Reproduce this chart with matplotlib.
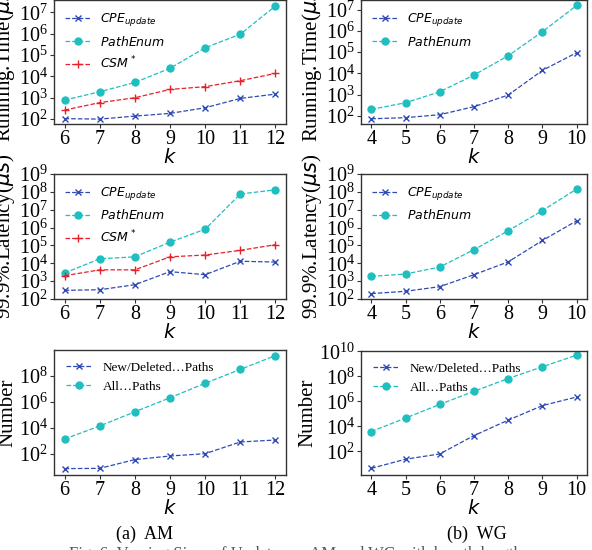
import numpy as np
import matplotlib
matplotlib.use('Agg')
import matplotlib.pyplot as plt
from matplotlib.ticker import NullLocator

plt.rcParams['font.family'] = 'serif'
plt.rcParams['font.serif'] = ['Liberation Serif', 'DejaVu Serif']
plt.rcParams['mathtext.fontset'] = 'dejavusans'

# data
k_am = [6, 7, 8, 9, 10, 11, 12]
k_wg = [4, 5, 6, 7, 8, 9, 10]

# running time (us)
am_time_cpe = [105, 100, 138, 185, 340, 930, 1480]
am_time_pe = [780, 1900, 5200, 24000, 220000, 950000, 2.0e7]
am_time_csm = [265, 590, 1000, 2450, 3300, 6300, 13800]
wg_time_cpe = [72, 81, 112, 267, 950, 13800, 95000]
wg_time_pe = [200, 410, 1350, 8300, 68000, 930000, 1.6e7]

# 99.9% latency (us)
am_lat_cpe = [305, 330, 630, 3400, 2300, 13000, 11700]
am_lat_pe = [2840, 17800, 23000, 152000, 810000, 7.6e7, 1.3e8]
am_lat_csm = [2000, 4300, 4300, 23000, 29000, 53000, 110000]
wg_lat_cpe = [200, 270, 490, 2300, 12000, 190000, 2.4e6]
wg_lat_pe = [1850, 2500, 6200, 58000, 660000, 9e6, 1.45e8]

# number of paths
am_num_new = [7.6, 7.9, 37, 70, 105, 830, 1170]
am_num_all = [1400, 13800, 170000, 2e6, 2.6e7, 3e8, 3.4e9]
wg_num_new = [4.3, 23, 61, 1800, 31000, 450000, 2.2e6]
wg_num_all = [3800, 45000, 560000, 6.3e6, 6.6e7, 5.8e8, 4.9e9]

BLUE = '#2f4ab5'
CYAN = '#1fbfc0'
RED = '#e8202a'
SPINE = '#333333'

W, H = 592, 550
fig = plt.figure(figsize=(W / 100, H / 100), dpi=100)


def make_ax(l, r, t, b):
    return fig.add_axes([l / W, 1 - b / H, (r - l) / W, (b - t) / H])


def style(ax, ks, ylabel, ylim, yticks):
    ax.set_yscale('log')
    ax.set_ylim(*ylim)
    ax.set_yticks(yticks)
    ax.yaxis.set_minor_locator(NullLocator())
    ax.set_xticks(ks)
    ax.set_xlim(ks[0] - 0.3, ks[-1] + 0.3)
    ax.tick_params(labelsize=14.5, length=3, width=0.8, color=SPINE, pad=1.5)
    for s in ax.spines.values():
        s.set_color(SPINE)
        s.set_linewidth(1.0)
    ax.set_xlabel('$k$', fontsize=14, labelpad=-1)
    ax.set_ylabel(ylabel, fontsize=15, labelpad=1)


def plot3(ax, ks, cpe, pe, csm=None, labels=None, fs=9):
    ax.plot(ks, cpe, '--', color=BLUE, marker='x', ms=5, lw=0.9, label=labels[0])
    ax.plot(ks, pe, '--', color=CYAN, marker='o', ms=5, lw=0.9, label=labels[1])
    if csm is not None:
        ax.plot(ks, csm, '--', color=RED, marker='+', ms=6, lw=0.9, label=labels[2])
    ax.legend(loc='upper left', frameon=False, fontsize=fs)


alg_labels = ['$CPE_{update}$', '$PathEnum$', '$CSM^*$']
num_labels = ['New/Deleted\u2026Paths', 'All\u2026Paths']
time_lbl = 'Running.Time($\\mu s$)'
lat_lbl = '99.9%.Latency($\\mu s$)'

LL, LR, RL, RR = 54, 286, 361, 587

ax = make_ax(LL, LR, 0, 124)
plot3(ax, k_am, am_time_cpe, am_time_pe, am_time_csm, alg_labels)
style(ax, k_am, time_lbl, (10 ** 1.77, 10 ** 7.58), [10.0 ** e for e in range(2, 8)])

ax = make_ax(RL, RR, 0, 124)
plot3(ax, k_wg, wg_time_cpe, wg_time_pe, None, alg_labels)
style(ax, k_wg, time_lbl, (10 ** 1.61, 10 ** 7.46), [10.0 ** e for e in range(2, 8)])

ax = make_ax(LL, LR, 174, 299)
plot3(ax, k_am, am_lat_cpe, am_lat_pe, am_lat_csm, alg_labels)
style(ax, k_am, lat_lbl, (1e2, 1e9), [10.0 ** e for e in range(2, 10)])

ax = make_ax(RL, RR, 174, 299)
plot3(ax, k_wg, wg_lat_cpe, wg_lat_pe, None, alg_labels)
style(ax, k_wg, lat_lbl, (1e2, 1e9), [10.0 ** e for e in range(2, 10)])

ax = make_ax(LL, LR, 350, 475)
plot3(ax, k_am, am_num_new, am_num_all, None, num_labels, fs=9.5)
style(ax, k_am, 'Number', (10 ** 0.39, 10 ** 9.96), [1e2, 1e4, 1e6, 1e8])

ax = make_ax(RL, RR, 351, 475)
plot3(ax, k_wg, wg_num_new, wg_num_all, None, num_labels, fs=9.5)
style(ax, k_wg, 'Number', (10 ** 0.10, 10 ** 10.02), [1e2, 1e4, 1e6, 1e8, 1e10])

fig.text(145 / W, 1 - 534 / H, '(a)  AM', ha='center', va='center', fontsize=13)
fig.text(477 / W, 1 - 534 / H, '(b)  WG', ha='center', va='center', fontsize=13)
fig.text(295 / W, 1 - 546.5 / H, 'Fig. 6: Varying Sizes of Updates on AM and WG with k-path length',
         ha='center', va='top', fontsize=12, color='#555555')

fig.savefig('out.png', dpi=100)
